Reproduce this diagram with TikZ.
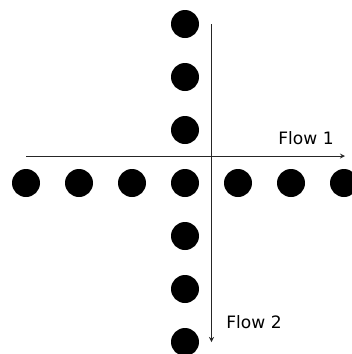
\documentclass[tikz,border=0pt]{standalone}
\usepackage{fontspec}
\setmainfont{DejaVu Sans}
\usepackage{tikz}
\usetikzlibrary{arrows,positioning}
\tikzstyle{dot} = [circle, minimum size=21pt, inner sep=0pt, fill=black]
\tikzstyle{arrow} = [line width=0.7pt,->,>=stealth,color=black!85]
\tikzstyle{flowlabel} = [font=\fontsize{12.8}{15}\selectfont, inner sep=0pt]

\begin{document}
\begin{tikzpicture}[x=0.75pt, y=-0.75pt]
\useasboundingbox (0,0) rectangle (351,354);
\foreach \i in {1,...,7}
  \node (h\i) [dot] at ({26+53*(\i-1)},183) {};
\foreach \i in {1,2,3,5,6,7}
  \node (v\i) [dot] at (185,{24+53*(\i-1)}) {};

\coordinate (f1s) at (26,156);
\coordinate (f1e) at (345,156);
\coordinate (f2s) at (211.5,24);
\coordinate (f2e) at (211.5,342);
\draw[arrow] (f1s) -- (f1e);
\draw[arrow] (f2s) -- (f2e);

\node (flow1) [flowlabel] at (306,138) {Flow 1};
\node (flow2) [flowlabel] at (254,322) {Flow 2};
\end{tikzpicture}
\end{document}
